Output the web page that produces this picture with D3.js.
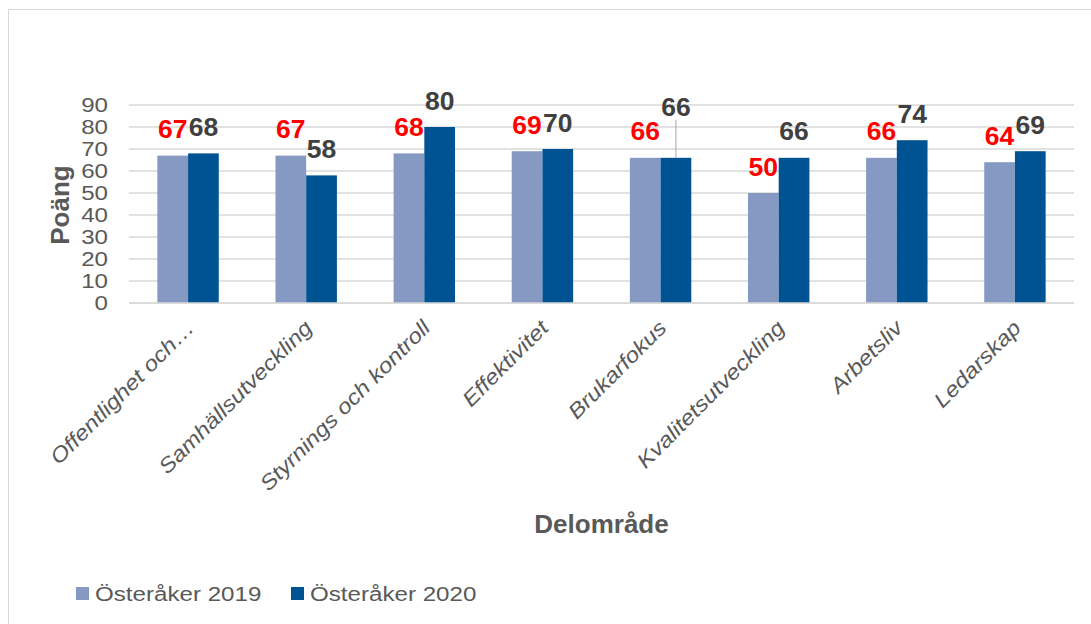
<!DOCTYPE html>
<html lang="sv">
<head>
<meta charset="UTF-8">
<title>Delområde 2019 / 2020</title>
<style>
  body { margin: 0; background: #fff; }
  text { font-family: "Liberation Sans", Arial, sans-serif; }
</style>
</head>
<body>
<svg width="1091" height="624"></svg>

<script src="https://d3js.org/d3.v7.min.js"></script>
<script>

    // data
    var categories = ["Offentlighet och\u2026", "Samhällsutveckling", "Styrnings och kontroll", "Effektivitet",
                      "Brukarfokus", "Kvalitetsutveckling", "Arbetsliv", "Ledarskap"];
    var series = ["Österåker 2019", "Österåker 2020"];
    var values2019 = [67, 67, 68, 69, 66, 50, 66, 64];
    var values2020 = [68, 58, 80, 70, 66, 66, 74, 69];
    var yTicks = [0, 10, 20, 30, 40, 50, 60, 70, 80, 90];

    // labels that were dragged up in the original (px)
    var labelLift2020 = [0, 0, 0, 0, 24, 0, 0, 0];

    var colors = ["#8599c2", "#005393"];
    var labelColors = ["#ff0000", "#404040"];

    var svg = d3.select("svg"),
        margin = {top: 105, right: 17, bottom: 321, left: 129};

    var width = +svg.attr("width") - margin.left - margin.right;
    var height = +svg.attr("height") - margin.top - margin.bottom;

    // outer frame of the chart object
    svg.append("rect")
        .attr("x", 8.5).attr("y", 9.5)
        .attr("width", 1100).attr("height", 700)
        .attr("fill", "none")
        .attr("stroke", "#d9d9d9");

    var g = svg.append("g")
        .attr("transform", "translate(" + margin.left + "," + margin.top + ")");

    var x = d3.scaleBand()
        .domain(categories)
        .range([0, width])
        .paddingInner(0.48)
        .paddingOuter(0.24);

    var xSeries = d3.scaleBand()
        .domain(series)
        .range([0, x.bandwidth()]);

    var y = d3.scaleLinear()
        .domain([0, 90])
        .range([height, 0]);

    // gridlines
    g.selectAll(".grid")
        .data(yTicks)
        .enter().append("line")
        .attr("x1", 0).attr("x2", width)
        .attr("y1", function(d) { return y(d); })
        .attr("y2", function(d) { return y(d); })
        .attr("stroke", "#d9d9d9")
        .attr("stroke-width", 1.5);

    // y tick labels
    var yAxis = g.append("g")
        .call(d3.axisLeft(y).tickValues(yTicks).tickSize(0).tickPadding(21));
    yAxis.select(".domain").remove();
    yAxis.selectAll("text")
        .attr("fill", "#595959")
        .style("font-size", "21px")
        .attr("transform", "scale(1.15,1)")
        .attr("x", -21 / 1.15);

    // bars
    var rows = categories.map(function(c, i) {
        return {cat: c, i: i, vals: [values2019[i], values2020[i]]};
    });

    var groups = g.selectAll(".group")
        .data(rows)
        .enter().append("g")
        .attr("transform", function(d) { return "translate(" + x(d.cat) + ",0)"; });

    groups.selectAll("rect")
        .data(function(d) { return d.vals.map(function(v, s) { return {v: v, s: s}; }); })
        .enter().append("rect")
        .attr("x", function(d) { return xSeries(series[d.s]); })
        .attr("width", xSeries.bandwidth())
        .attr("y", function(d) { return y(d.v); })
        .attr("height", function(d) { return y(0) - y(d.v); })
        .attr("fill", function(d) { return colors[d.s]; });

    // leader lines for moved labels
    groups.filter(function(d) { return labelLift2020[d.i] > 0; })
        .append("line")
        .attr("x1", xSeries(series[1]) + xSeries.bandwidth() / 2)
        .attr("x2", xSeries(series[1]) + xSeries.bandwidth() / 2)
        .attr("y1", function(d) { return y(d.vals[1]) - labelLift2020[d.i] - 14; })
        .attr("y2", function(d) { return y(d.vals[1]); })
        .attr("stroke", "#a6a6a6")
        .attr("stroke-width", 1);

    // value labels
    groups.selectAll(".vlabel")
        .data(function(d) {
            return d.vals.map(function(v, s) { return {v: v, s: s, i: d.i}; });
        })
        .enter().append("text")
        .attr("class", "vlabel")
        .attr("text-anchor", "middle")
        .attr("transform", function(d) {
            var lift = d.s === 1 ? labelLift2020[d.i] : 0;
            var cx = xSeries(series[d.s]) + xSeries.bandwidth() / 2;
            return "translate(" + cx + "," + (y(d.v) - 17.5 - lift) + ") scale(1.06,1)";
        })
        .attr("fill", function(d) { return labelColors[d.s]; })
        .style("font-size", "25px")
        .style("font-weight", "bold")
        .text(function(d) { return d.v; });

    // x axis line
    g.append("line")
        .attr("x1", 0).attr("x2", width)
        .attr("y1", y(0)).attr("y2", y(0))
        .attr("stroke", "#d9d9d9")
        .attr("stroke-width", 1.5);

    // category labels
    g.selectAll(".xlabel")
        .data(categories)
        .enter().append("text")
        .attr("class", "xlabel")
        .attr("text-anchor", "end")
        .attr("dy", "0.35em")
        .attr("transform", function(d) {
            return "translate(" + (x(d) + x.bandwidth() / 2 + 2) + "," + (height + 21) + ") rotate(-45) scale(1.15,1)";
        })
        .attr("fill", "#595959")
        .style("font-size", "21px")
        .style("font-style", "italic")
        .text(function(d) { return d; });

    // axis titles
    g.append("text")
        .attr("text-anchor", "middle")
        .attr("transform", "translate(" + (60 - margin.left + 9) + "," + (205 - margin.top) + ") rotate(-90)")
        .attr("fill", "#595959")
        .style("font-size", "26px")
        .style("font-weight", "bold")
        .text("Poäng");

    g.append("text")
        .attr("text-anchor", "middle")
        .attr("x", width / 2)
        .attr("y", 533 - margin.top)
        .attr("fill", "#595959")
        .style("font-size", "26px")
        .style("font-weight", "bold")
        .text("Delområde");

    // legend
    var legend = svg.append("g")
        .attr("transform", "translate(76,587)");

    var legendItems = legend.selectAll(".item")
        .data(series)
        .enter().append("g")
        .attr("transform", function(d, i) { return "translate(" + (i * 215) + ",0)"; });

    legendItems.append("rect")
        .attr("width", 13).attr("height", 13)
        .attr("fill", function(d, i) { return colors[i]; });

    legendItems.append("text")
        .attr("transform", "translate(19,14) scale(1.15,1)")
        .attr("fill", "#595959")
        .style("font-size", "21px")
        .text(function(d) { return d; });

</script>
</body>
</html>
